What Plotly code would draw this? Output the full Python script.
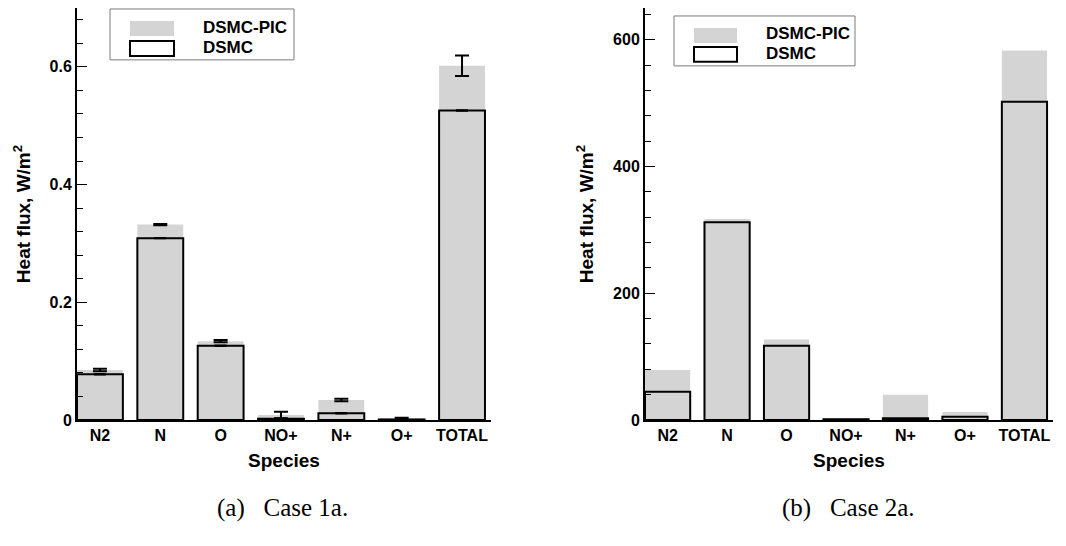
import plotly.graph_objects as go

species = ["N2", "N", "O", "NO+", "N+", "O+", "TOTAL"]

# Case 1a (W/m^2)
pic_1a = [0.085, 0.332, 0.134, 0.0085, 0.034, 0.002, 0.602]
pic_1a_err = [0.002, 0.0012, 0.002, 0.0056, 0.002, 0.0018, 0.0175]
dsmc_1a = [0.0777, 0.309, 0.126, 0.002, 0.0113, 0.001, 0.526]
dsmc_1a_err = [0.0004, 0.0004, 0.0004, 0.0004, 0.0004, 0.0004, 0.0004]

# Case 2a (W/m^2)
pic_2a = [79, 317, 127, 2, 40, 12.6, 583]
dsmc_2a = [44.5, 312, 117, 1, 2.6, 5.2, 502]

GRAY = "#d4d4d4"
FONT = "Liberation Sans"
BAR_W = 0.76

fig = go.Figure()

def add_case(pic, dsmc, xa, ya, pic_err=None, dsmc_err=None):
    pic_kw = {}
    if pic_err is not None:
        pic_kw["error_y"] = dict(type="data", array=pic_err, visible=True,
                                 color="black", thickness=2, width=7)
    fig.add_trace(go.Bar(x=species, y=pic, width=BAR_W, marker=dict(color=GRAY, line=dict(width=0)),
                         name="DSMC-PIC", showlegend=False, xaxis=xa, yaxis=ya, **pic_kw))
    dsmc_kw = {}
    if dsmc_err is not None:
        dsmc_kw["error_y"] = dict(type="data", array=dsmc_err, visible=True,
                                  color="black", thickness=2, width=6)
    fig.add_trace(go.Bar(x=species, y=dsmc, width=BAR_W,
                         marker=dict(color="rgba(0,0,0,0)", line=dict(color="black", width=2)),
                         name="DSMC", showlegend=False, xaxis=xa, yaxis=ya, **dsmc_kw))

add_case(pic_1a, dsmc_1a, "x", "y", pic_1a_err, dsmc_1a_err)
add_case(pic_2a, dsmc_2a, "x2", "y2")

# the page body adds an 8 px margin; positions below are target screen pixels
OFF = 8
W, H = 1066, 546
T = 7 - OFF
BOT = 420 - OFF          # screen y of the x axes
B = H - BOT
PH = BOT - T

def px(xp):
    return (xp - OFF) / W

def py(yp):
    return (420 - yp) / PH

tickfont = dict(family=FONT, size=16, color="black", weight="bold")
titlefont = dict(family=FONT, size=19, color="black", weight="bold")

def xaxis(domain, anchor):
    return dict(domain=domain, anchor=anchor, range=[-0.38, 6.48], showline=True, linewidth=2,
                linecolor="black", ticks="", showgrid=False, zeroline=False, tickfont=tickfont,
                automargin=False,
                title=dict(text="Species", font=titlefont, standoff=10), fixedrange=True)

def yaxis(rng, dtick, minor, anchor):
    return dict(domain=[0, 1], anchor=anchor, range=rng, dtick=dtick, showline=True, linewidth=2,
                linecolor="black", ticks="inside", ticklen=10, tickwidth=1, tickcolor="black",
                minor=dict(dtick=minor, ticks="inside", ticklen=6, tickwidth=1, tickcolor="black"),
                showgrid=False, zeroline=False, tickfont=tickfont, automargin=False,
                title=dict(text="Heat flux, W/m<sup>2</sup>", font=titlefont, standoff=14))

fig.update_layout(
    width=W, height=H, plot_bgcolor="white", paper_bgcolor="white",
    margin=dict(l=0, r=0, t=max(T, 0), b=B, autoexpand=False), barmode="overlay", showlegend=False,
    xaxis=xaxis([px(77), px(491)], "y"),
    yaxis=yaxis([0, 0.7], 0.2, 0.04, "x"),
    xaxis2=xaxis([px(645), px(1053)], "y2"),
    yaxis2=yaxis([0, 650], 200, 40, "x2"),
)

shapes = []
annotations = []

def legend(x0, y0, x1, y1, sw_x0, sw_x1, text_x, rows):
    shapes.append(dict(type="rect", xref="paper", yref="paper", x0=px(x0), x1=px(x1),
                       y0=py(y1), y1=py(y0), line=dict(color="#7a7a7a", width=1), fillcolor="white"))
    (g0, g1, gt), (d0, d1, dt) = rows
    shapes.append(dict(type="rect", xref="paper", yref="paper", x0=px(sw_x0), x1=px(sw_x1),
                       y0=py(g1), y1=py(g0), line=dict(width=0), fillcolor=GRAY))
    shapes.append(dict(type="rect", xref="paper", yref="paper", x0=px(sw_x0), x1=px(sw_x1),
                       y0=py(d1), y1=py(d0), line=dict(color="black", width=2), fillcolor="white"))
    for txt, yy in (("DSMC-PIC", gt), ("DSMC", dt)):
        annotations.append(dict(text=txt, xref="paper", yref="paper", x=px(text_x), y=py(yy),
                                xanchor="left", yanchor="middle", showarrow=False,
                                font=dict(family=FONT, size=17, color="black", weight="bold")))

legend(110, 8, 294, 59, 130, 174, 201, [(20, 35, 27), (40, 55, 47)])
legend(674, 15, 855, 65, 694, 737, 764, [(27, 42, 33), (46, 61, 53)])

for txt, xc in (("(a)\u2002\u2005Case 1a.", 282), ("(b)\u2002\u2005Case 2a.", 848)):
    annotations.append(dict(text=txt, xref="paper", yref="paper", x=px(xc), y=py(508),
                            xanchor="center", yanchor="middle", showarrow=False,
                            font=dict(family="Liberation Serif", size=25, color="black")))

fig.update_layout(shapes=shapes, annotations=annotations)
fig.write_html("out.html")
